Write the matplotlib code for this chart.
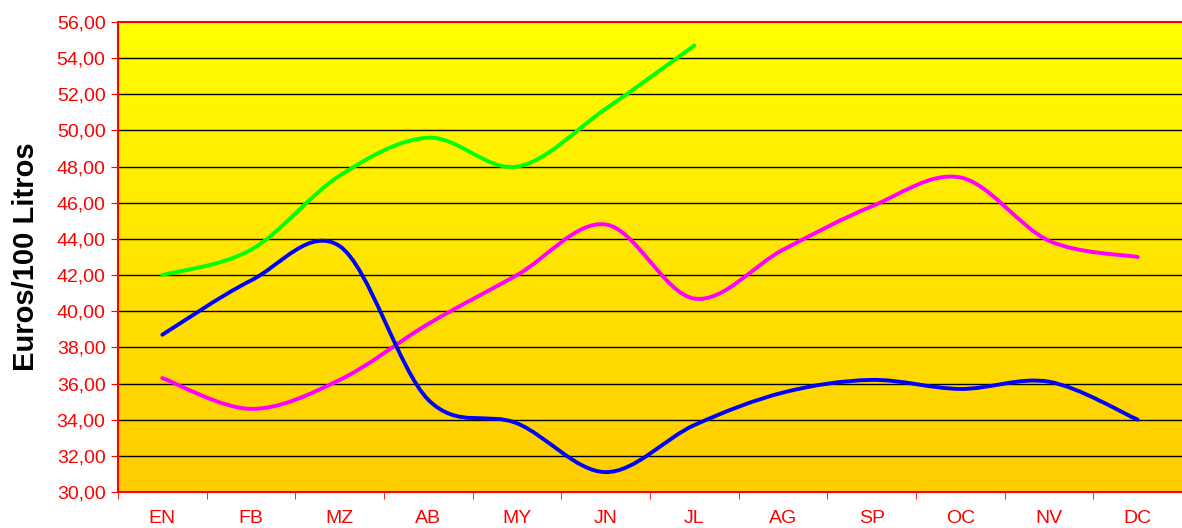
import matplotlib
matplotlib.use("Agg")
import matplotlib.pyplot as plt
import numpy as np
from matplotlib.path import Path
from matplotlib.patches import PathPatch
from matplotlib.ticker import FuncFormatter

# months and monthly prices (euros / 100 litres)
months = ["EN", "FB", "MZ", "AB", "MY", "JN", "JL", "AG", "SP", "OC", "NV", "DC"]
green_vals = [42.0, 43.4, 47.5, 49.6, 48.0, 51.2, 54.7]
magenta_vals = [36.3, 34.6, 36.2, 39.3, 42.0, 44.8, 40.7, 43.4, 45.8, 47.4, 43.9, 43.0]
blue_vals = [38.7, 41.7, 43.6, 35.1, 33.8, 31.1, 33.7, 35.5, 36.2, 35.7, 36.1, 34.0]

plt.rcParams['font.family'] = ['Liberation Sans', 'DejaVu Sans']


def smooth_path(ys):
    # excel-like smoothed line as cubic bezier segments
    xs = np.arange(len(ys), dtype=float)
    pts = np.column_stack([xs, ys])
    verts = [pts[0]]
    codes = [Path.MOVETO]
    n = len(pts)
    for i in range(n - 1):
        p0 = pts[max(i - 1, 0)]
        p1 = pts[i]
        p2 = pts[i + 1]
        p3 = pts[min(i + 2, n - 1)]
        c1 = p1 + (p2 - p0) / 6.0
        c2 = p2 - (p3 - p1) / 6.0
        verts += [c1, c2, p2]
        codes += [Path.CURVE4] * 3
    return Path(verts, codes)


fig = plt.figure(figsize=(11.82, 5.28), dpi=100)
ax = fig.add_axes([118 / 1182, 36 / 528, 1064 / 1182, 470 / 528])

# yellow -> orange gradient background
grad = np.linspace(0, 1, 256).reshape(-1, 1)
cmap = matplotlib.colors.LinearSegmentedColormap.from_list("bg", ["#FFCC00", "#FFFF00"])
ax.imshow(grad, cmap=cmap, aspect="auto", extent=[0, 1, 0, 1],
          transform=ax.transAxes, origin="lower", zorder=0)

for vals, col in [(magenta_vals, "#FF00FF"), (blue_vals, "#0000FF"), (green_vals, "#00FF00")]:
    ax.add_patch(PathPatch(smooth_path(vals), fill=False, edgecolor=col,
                           lw=2.8, zorder=3, capstyle="round", joinstyle="round"))

ax.set_xlim(-0.5, 11.5)
ax.set_ylim(30, 56)
ax.set_yticks(np.arange(30, 57, 2))
ax.yaxis.set_major_formatter(FuncFormatter(lambda v, p: f"{v:.2f}".replace(".", ",")))
ax.set_xticks(np.arange(len(months)))
ax.set_xticklabels(months)
ax.set_xticks(np.arange(-0.5, 12, 1), minor=True)
ax.tick_params(axis="x", which="major", length=0, pad=13, colors="#FF0000", labelsize=14)
ax.tick_params(axis="x", which="minor", length=5, color="#FF0000", direction="out")
ax.tick_params(axis="y", length=5, color="#FF0000", labelcolor="#FF0000", labelsize=14, pad=4)

for v in np.arange(32, 56, 2):
    ax.axhline(v, color="black", lw=1.0, zorder=1)

for s in ["left", "bottom", "top"]:
    ax.spines[s].set_color("#FF0000")
    ax.spines[s].set_linewidth(1.5)
ax.spines["right"].set_visible(False)

ax.set_ylabel("Euros/100 Litros", fontsize=21, fontweight="bold", labelpad=12)

fig.savefig("out.png", dpi=100)
